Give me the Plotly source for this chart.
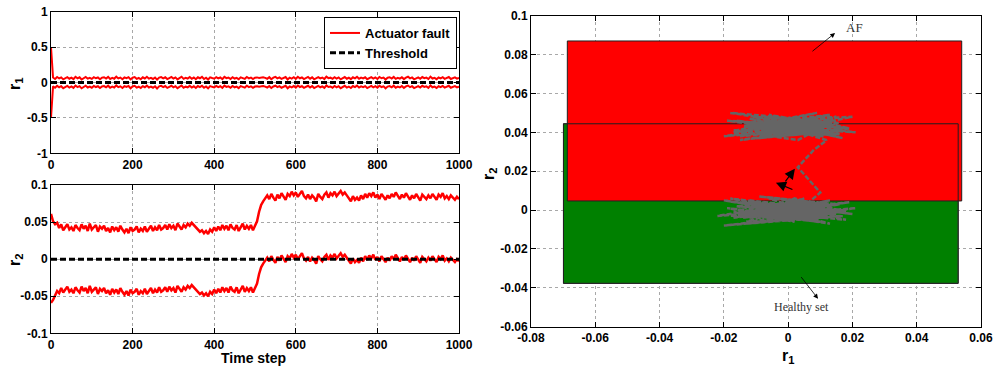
import plotly.graph_objects as go

# ---------------------------------------------------------------------------
# Data
# ---------------------------------------------------------------------------
time_step = list(range(0, 1001, 5))

# centre of the residual set, component r1 (per time sample)
r1_mid = [
    0.000, 0.008, -0.012, 0.015, -0.005, 0.010, -0.018, 0.004, 0.013, -0.009,
    0.006, -0.014, 0.019, -0.003, 0.011, -0.020, 0.002, 0.016, -0.008, 0.005,
    -0.011, 0.014, -0.002, 0.009, -0.016, 0.007, 0.012, -0.006, 0.017, -0.013,
    0.003, -0.009, 0.021, -0.004, 0.008, -0.015, 0.010, -0.001, 0.013, -0.019,
    0.006, 0.015, -0.010, 0.002, -0.017, 0.011, -0.005, 0.018, -0.008, 0.004,
    -0.012, 0.009, -0.022, 0.007, 0.014, -0.003, 0.012, -0.014, 0.001, 0.016,
    -0.007, 0.010, -0.018, 0.005, 0.020, -0.011, 0.003, -0.006, 0.015, -0.009,
    0.008, -0.016, 0.012, -0.002, 0.017, -0.013, 0.006, -0.020, 0.011, 0.001,
    -0.008, 0.014, -0.004, 0.009, -0.015, 0.018, -0.001, 0.007, -0.012, 0.013,
    -0.006, 0.004, -0.017, 0.011, 0.002, -0.010, 0.016, -0.003, 0.008, -0.014,
    0.005, 0.010, 0.003, 0.008, 0.012, 0.004, -0.009, 0.013, -0.016, 0.006,
    0.017, -0.004, 0.010, -0.012, 0.002, 0.015, -0.019, 0.007, -0.006, 0.012,
    -0.010, 0.019, -0.002, 0.009, -0.014, 0.004, 0.016, -0.008, 0.011, -0.017,
    0.003, 0.014, -0.005, 0.008, -0.013, 0.020, -0.001, 0.006, -0.011, 0.013,
    -0.007, 0.010, -0.018, 0.002, 0.015, -0.009, 0.005, -0.015, 0.012, -0.003,
    0.018, -0.010, 0.007, -0.004, 0.011, -0.016, 0.001, 0.014, -0.007, 0.009,
    -0.012, 0.016, -0.002, 0.008, -0.020, 0.005, 0.012, -0.006, 0.017, -0.011,
    0.003, -0.008, 0.013, -0.014, 0.006, 0.019, -0.004, 0.010, -0.017, 0.002,
    0.011, -0.009, 0.015, -0.001, 0.007, -0.013, 0.021, -0.006, 0.004, -0.015,
    0.009, -0.003, 0.014, -0.010, 0.006, 0.016, -0.012, 0.001, 0.011, -0.007,
    0.004,
]
# half width of the r1 interval
r1_half = [0.5] + [0.062] * 200

# centre of the residual set, component r2
r2_mid = [
    0.001, -0.002, -0.001, 0.003, -0.002, 0.004,
    -0.003, 0.002, 0.005, -0.002, 0.001, -0.004, 0.004, 0.000, -0.003, 0.005,
    -0.001, 0.003, -0.004, 0.006, -0.002, 0.001, 0.004, -0.005, 0.002, -0.001,
    0.003, -0.004, 0.000, -0.006, 0.002, -0.003, 0.001, -0.005, 0.003, -0.002,
    -0.006, -0.001, -0.007, 0.001, -0.004, -0.002, 0.002, -0.006, -0.001, -0.004,
    0.002, -0.005, -0.001, 0.003, -0.004, 0.001, -0.003, 0.004, -0.002, 0.000,
    0.004, -0.002, 0.005, 0.000, 0.003, -0.003, 0.006, 0.001, -0.002, 0.004,
    0.001, 0.006, 0.003, 0.007, 0.004, 0.002, -0.001, -0.005, -0.003, -0.007,
    -0.004, -0.008, -0.002, -0.005, 0.001, -0.004, 0.002, -0.003, 0.004, -0.001,
    0.003, -0.003, 0.005, 0.000, -0.002, 0.004, -0.004, 0.002, 0.006, -0.002,
    0.003, -0.001, 0.004, -0.003, 0.002,
    0.009, 0.022, 0.031, 0.036, 0.040,
    0.044, 0.039, 0.046, 0.041, 0.037, 0.045, 0.040, 0.047, 0.042, 0.038,
    0.046, 0.043, 0.049, 0.044, 0.048, 0.042, 0.046, 0.050, 0.043, 0.040,
    0.045, 0.039, 0.044, 0.041, 0.036, 0.046, 0.042, 0.039, 0.045, 0.048,
    0.041, 0.047, 0.044, 0.049, 0.043, 0.046, 0.050, 0.045, 0.048, 0.044,
    0.040, 0.036, 0.043, 0.038, 0.041, 0.037, 0.044, 0.039, 0.046, 0.041,
    0.047, 0.043, 0.048, 0.041, 0.045, 0.039, 0.046, 0.042, 0.038, 0.044,
    0.040, 0.046, 0.042, 0.048, 0.043, 0.039, 0.045, 0.041, 0.047, 0.042,
    0.038, 0.044, 0.040, 0.046, 0.041, 0.037, 0.045, 0.042, 0.039, 0.044,
    0.040, 0.046, 0.041, 0.038, 0.045, 0.042, 0.047, 0.040, 0.043, 0.039,
    0.044, 0.041, 0.038, 0.042, 0.039,
]
# half width of the r2 interval
r2_half = [0.060, 0.053, 0.048, 0.046, 0.044, 0.043] + [0.042] * 195

threshold_t = [0, 1000]
threshold_r = [0.0, 0.0]

# set boxes in the (r1, r2) plane: [min, max]
healthy_r1 = [-0.0699, 0.0529]
healthy_r2 = [-0.0377, 0.0444]
af_r1 = [-0.0687, 0.0540]
af_r2 = [0.0047, 0.0870]

# annotation arrows: (head r1, head r2, tail r1, tail r2)
af_arrow = [0.0146, 0.0911, 0.0071, 0.0811]
healthy_arrow = [0.0093, -0.0456, 0.0037, -0.0337]
move_arrows = [
    [0.0021, 0.0213, -0.0012, 0.0140],
    [-0.0038, 0.0141, 0.0018, 0.0103],
]
af_label_pos = [0.0205, 0.0938]
healthy_label_pos = [0.0043, -0.0500]

t_ticks = [0, 200, 400, 600, 800, 1000]
r1_ticks = [-1, -0.5, 0, 0.5, 1]
r1_ticktext = ["-1", "-0.5", "0", "0.5", "1"]
r2_ticks = [-0.1, -0.05, 0, 0.05, 0.1]
r2_ticktext = ["-0.1", "-0.05", "0", "0.05", "0.1"]
plane_x_ticks = [-0.08, -0.06, -0.04, -0.02, 0, 0.02, 0.04, 0.06]
plane_x_text = ["-0.08", "-0.06", "-0.04", "-0.02", "0", "0.02", "0.04", "0.06"]
plane_y_ticks = [-0.06, -0.04, -0.02, 0, 0.02, 0.04, 0.06, 0.08, 0.1]
plane_y_text = ["-0.06", "-0.04", "-0.02", "0", "0.02", "0.04", "0.06", "0.08", "0.1"]

# ---------------------------------------------------------------------------
# Derived bounds
# ---------------------------------------------------------------------------
r1_up = [m + h for m, h in zip(r1_mid, r1_half)]
r1_lo = [m - h for m, h in zip(r1_mid, r1_half)]
r2_up = [m + h for m, h in zip(r2_mid, r2_half)]
r2_lo = [m - h for m, h in zip(r2_mid, r2_half)]

RED = "#ff0000"
GREEN = "#008000"
GRAY = "#656565"
FONT = "Liberation Sans, Arial, sans-serif"
SERIF = "Liberation Serif, Times New Roman, serif"

fig = go.Figure()

# --- r1 vs time -------------------------------------------------------------
fig.add_trace(go.Scatter(x=time_step, y=r1_up, mode="lines", name="Actuator fault",
                         line=dict(color=RED, width=2), xaxis="x", yaxis="y",
                         legendgroup="af"))
fig.add_trace(go.Scatter(x=time_step, y=r1_lo, mode="lines", showlegend=False,
                         line=dict(color=RED, width=2), xaxis="x", yaxis="y",
                         legendgroup="af"))
fig.add_trace(go.Scatter(x=threshold_t, y=threshold_r, mode="lines", name="Threshold",
                         line=dict(color="black", width=3, dash="6px,3px"),
                         xaxis="x", yaxis="y"))

# --- r2 vs time -------------------------------------------------------------
fig.add_trace(go.Scatter(x=time_step, y=r2_up, mode="lines", showlegend=False,
                         line=dict(color=RED, width=2.5), xaxis="x2", yaxis="y2"))
fig.add_trace(go.Scatter(x=time_step, y=r2_lo, mode="lines", showlegend=False,
                         line=dict(color=RED, width=2.5), xaxis="x2", yaxis="y2"))
fig.add_trace(go.Scatter(x=threshold_t, y=threshold_r, mode="lines", showlegend=False,
                         line=dict(color="black", width=3, dash="6px,3px"),
                         xaxis="x2", yaxis="y2"))


# --- residual plane -----------------------------------------------------------
def box(xr, yr):
    return ([xr[0], xr[1], xr[1], xr[0], xr[0]],
            [yr[0], yr[0], yr[1], yr[1], yr[0]])


hx, hy = box(healthy_r1, healthy_r2)
ax_, ay_ = box(af_r1, af_r2)
fig.add_trace(go.Scatter(x=hx, y=hy, mode="lines", fill="toself", fillcolor=GREEN,
                         line=dict(color="#404040", width=1), showlegend=False,
                         xaxis="x3", yaxis="y3", hoverinfo="skip"))
fig.add_trace(go.Scatter(x=ax_, y=ay_, mode="lines", fill="toself", fillcolor=RED,
                         line=dict(color="#202020", width=1), showlegend=False,
                         xaxis="x3", yaxis="y3", hoverinfo="skip"))
fig.add_trace(go.Scatter(x=hx, y=hy, mode="lines",
                         line=dict(color="#202020", width=1), showlegend=False,
                         xaxis="x3", yaxis="y3", hoverinfo="skip"))
fig.add_trace(go.Scatter(x=r1_mid, y=r2_mid, mode="lines", showlegend=False,
                         line=dict(color=GRAY, width=2.5, dash="5px,2px"),
                         xaxis="x3", yaxis="y3"))

# ---------------------------------------------------------------------------
# Axes
# ---------------------------------------------------------------------------
tickfont = dict(family=FONT, size=12, color="black", weight="bold")
common = dict(showline=True, linecolor="black", linewidth=1, mirror="ticks",
              ticks="inside", ticklen=5, tickcolor="black", automargin=False,
              showgrid=True, gridcolor="#a8a8a8", griddash="dot", gridwidth=1,
              zeroline=False, tickfont=tickfont)

L = [51 / 994, 459 / 994]
fig.update_layout(
    xaxis=dict(domain=L, range=[0, 1000], tickvals=t_ticks, anchor="y", **common),
    yaxis=dict(domain=[1 - 153.3 / 369, 1 - 11.7 / 369], range=[-1, 1],
               tickvals=r1_ticks, ticktext=r1_ticktext, anchor="x", **common),
    xaxis2=dict(domain=L, range=[0, 1000], tickvals=t_ticks, anchor="y2", **common),
    yaxis2=dict(domain=[1 - 333.3 / 369, 1 - 185 / 369], range=[-0.1, 0.1],
                tickvals=r2_ticks, ticktext=r2_ticktext, anchor="x2", **common),
    xaxis3=dict(domain=[531 / 994, 981 / 994], range=[-0.08, 0.06],
                tickvals=plane_x_ticks, ticktext=plane_x_text, anchor="y3", **common),
    yaxis3=dict(domain=[1 - 326.7 / 369, 1 - 15.7 / 369], range=[-0.06, 0.1],
                tickvals=plane_y_ticks, ticktext=plane_y_text, anchor="x3", **common),
)

# ---------------------------------------------------------------------------
# Annotations: axis titles, set labels and arrows
# ---------------------------------------------------------------------------
title_font = dict(family=FONT, size=16, color="black", weight="bold")


def paper_text(text, px, py, font, angle=0):
    return dict(text=text, x=px / 994, y=1 - py / 369, xref="paper", yref="paper",
                xanchor="center", yanchor="middle", textangle=angle,
                showarrow=False, font=font)


annotations = [
    paper_text("r<sub>1</sub>", 15, 84, title_font, -90),
    paper_text("r<sub>2</sub>", 15, 260, title_font, -90),
    paper_text("Time step", 253, 358,
               dict(family=FONT, size=14, color="black", weight="bold")),
    paper_text("r<sub>2</sub>", 489, 174, title_font, -90),
    paper_text("r<sub>1</sub>", 788, 356, title_font),
    dict(text="AF", x=af_label_pos[0], y=af_label_pos[1], xref="x3", yref="y3",
         xanchor="center", yanchor="middle",
         showarrow=False, font=dict(family=SERIF, size=13, color="#333333")),
    dict(text="Healthy set", x=healthy_label_pos[0], y=healthy_label_pos[1],
         xref="x3", yref="y3", xanchor="center", yanchor="middle", showarrow=False,
         font=dict(family=SERIF, size=12, color="#333333")),
]
for hx_, hy_, tx_, ty_ in [af_arrow, healthy_arrow]:
    annotations.append(dict(x=hx_, y=hy_, ax=tx_, ay=ty_, xref="x3", yref="y3",
                            axref="x3", ayref="y3", text="", showarrow=True,
                            arrowhead=2, arrowsize=1.2, arrowwidth=0.8,
                            arrowcolor="black"))
for hx_, hy_, tx_, ty_ in move_arrows:
    annotations.append(dict(x=hx_, y=hy_, ax=tx_, ay=ty_, xref="x3", yref="y3",
                            axref="x3", ayref="y3", text="", showarrow=True,
                            arrowhead=2, arrowsize=1.7, arrowwidth=1.2,
                            arrowcolor="black"))

fig.update_layout(
    width=994, height=369,
    margin=dict(l=0, r=0, t=0, b=0),
    paper_bgcolor="white", plot_bgcolor="white",
    annotations=annotations,
    showlegend=True,
    legend=dict(x=324 / 994, y=1 - 17 / 369, xanchor="left", yanchor="top",
                bgcolor="white", bordercolor="black", borderwidth=1,
                font=dict(family=FONT, size=13, color="black", weight="bold"),
                itemwidth=30, tracegroupgap=0),
)

fig.write_html("out.html")
